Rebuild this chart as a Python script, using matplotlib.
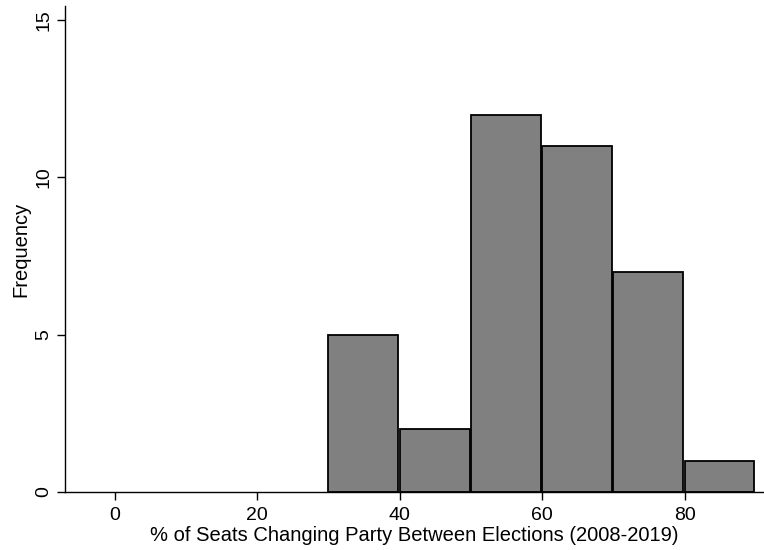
import matplotlib.pyplot as plt

bin_edges = [30, 40, 50, 60, 70, 80]
counts = [5, 2, 12, 11, 7, 1]
bin_width = 10
x_ticks = [0, 20, 40, 60, 80]
y_ticks = [0, 5, 10, 15]

plt.rcParams["font.family"] = ["Liberation Sans", "DejaVu Sans"]

fig = plt.figure(figsize=(7.64, 5.5), dpi=100)
ax = fig.add_axes([0.085, 0.1055, 0.9137, 0.8835])

ax.bar(bin_edges, counts, width=bin_width - 0.2, align="edge",
       color="#808080", edgecolor="black", linewidth=1.3)

ax.set_xlim(-7, 91)
ax.set_ylim(0, 15.45)
ax.set_xticks(x_ticks)
ax.set_yticks(y_ticks)
ax.tick_params(axis="both", labelsize=14, length=6, width=1, direction="out")
ax.tick_params(axis="x", pad=4.5)
ax.tick_params(axis="y", labelrotation=90, pad=3)
for label in ax.get_yticklabels():
    label.set_verticalalignment("center")

ax.spines["top"].set_visible(False)
ax.spines["right"].set_visible(False)
ax.spines["left"].set_linewidth(1)
ax.spines["bottom"].set_linewidth(1)

ax.set_xlabel("% of Seats Changing Party Between Elections (2008-2019)", fontsize=14.5, labelpad=2)
ax.set_ylabel("Frequency", fontsize=14.5, labelpad=4)

fig.savefig("out.png", dpi=100)
plt.close(fig)
